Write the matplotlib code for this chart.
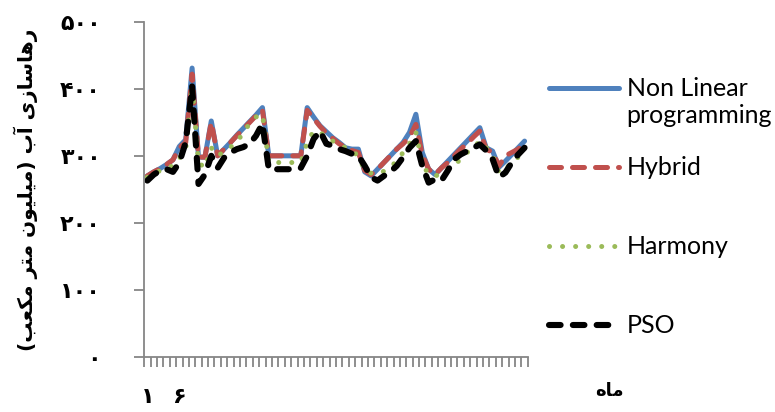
import numpy as np
import matplotlib.pyplot as plt
from matplotlib.ticker import FixedLocator

months = np.arange(1, 61)

nonlinear = [270, 276, 281, 287, 294, 314, 324, 431, 298, 298,
             352, 300, 310, 320, 331, 341, 351, 361, 372, 300,
             300, 300, 300, 300, 300, 372, 358, 345, 336, 327,
             320, 312, 310, 310, 276, 270, 280, 290, 300, 310,
             320, 335, 362, 305, 280, 272, 282, 292, 302, 312,
             322, 332, 342, 312, 307, 283, 292, 302, 312, 322]
hybrid = [270, 276, 281, 287, 294, 312, 320, 422, 298, 298,
          350, 300, 310, 320, 330, 340, 350, 360, 368, 300,
          300, 300, 300, 300, 300, 368, 356, 344, 334, 326,
          318, 312, 308, 305, 278, 272, 280, 290, 300, 310,
          318, 328, 347, 302, 280, 272, 282, 290, 300, 310,
          318, 328, 337, 310, 305, 285, 300, 305, 310, 318]
harmony = [268, 273, 278, 282, 285, 296, 310, 406, 290, 282,
           312, 300, 306, 313, 320, 335, 348, 358, 362, 290,
           290, 290, 290, 290, 290, 320, 337, 335, 328, 322,
           317, 312, 307, 300, 278, 274, 273, 277, 283, 292,
           305, 318, 335, 288, 272, 270, 273, 280, 286, 295,
           305, 312, 322, 312, 300, 275, 280, 290, 298, 308]
pso = [263, 272, 278, 280, 276, 290, 320, 404, 258, 272,
       300, 282, 297, 305, 310, 313, 318, 330, 348, 280,
       280, 280, 280, 280, 282, 300, 325, 337, 318, 315,
       310, 307, 303, 300, 285, 268, 263, 270, 276, 285,
       298, 312, 322, 285, 260, 265, 263, 278, 295, 302,
       307, 312, 317, 308, 295, 268, 275, 290, 302, 312]

series_names = ["Non Linear\nprogramming", "Hybrid", "Harmony", "PSO"]
y_ticks = [0, 100, 200, 300, 400, 500]
y_tick_labels = ["۰", "۱۰۰", "۲۰۰", "۳۰۰", "۴۰۰", "۵۰۰"]
x_tick_pos = [1, 6]
x_tick_labels = ["۱", "۶"]
y_title = "رهاسازی آب (میلیون متر مکعب)"
x_title = "ماه"

# matplotlib has no Arabic shaping/bidi, so join letters by hand
FORMS = {  # isolated, final, initial, medial
    "ا": ("\uFE8D", "\uFE8E", None, None),
    "آ": ("\uFE81", "\uFE82", None, None),
    "ب": ("\uFE8F", "\uFE90", "\uFE91", "\uFE92"),
    "ت": ("\uFE95", "\uFE96", "\uFE97", "\uFE98"),
    "ر": ("\uFEAD", "\uFEAE", None, None),
    "ز": ("\uFEAF", "\uFEB0", None, None),
    "س": ("\uFEB1", "\uFEB2", "\uFEB3", "\uFEB4"),
    "ع": ("\uFEC9", "\uFECA", "\uFECB", "\uFECC"),
    "ک": ("\uFB8E", "\uFB8F", "\uFB90", "\uFB91"),
    "ل": ("\uFEDD", "\uFEDE", "\uFEDF", "\uFEE0"),
    "م": ("\uFEE1", "\uFEE2", "\uFEE3", "\uFEE4"),
    "ن": ("\uFEE5", "\uFEE6", "\uFEE7", "\uFEE8"),
    "ه": ("\uFEE9", "\uFEEA", "\uFEEB", "\uFEEC"),
    "و": ("\uFEED", "\uFEEE", None, None),
    "ی": ("\uFEEF", "\uFEF0", "\uFEF3", "\uFEF4"),
}


def shape(text):
    out = []
    for k, ch in enumerate(text):
        if ch not in FORMS:
            out.append(ch)
            continue
        prev = text[k - 1] if k else ""
        nxt = text[k + 1] if k + 1 < len(text) else ""
        join_prev = prev in FORMS and FORMS[prev][2] is not None
        join_next = nxt in FORMS and FORMS[ch][2] is not None
        iso, fin, ini, med = FORMS[ch]
        if join_prev and join_next:
            out.append(med)
        elif join_prev:
            out.append(fin)
        elif join_next:
            out.append(ini)
        else:
            out.append(iso)
    mirror = {"(": ")", ")": "("}
    return "".join(mirror.get(c, c) for c in reversed(out))


gray = "#868686"
fig = plt.figure(figsize=(7.75, 4.12), dpi=100)
ax = fig.add_axes([0.186, 0.134, 0.495, 0.813])

ax.plot(months, nonlinear, color="#4F81BD", lw=3.6,
        solid_capstyle="round", solid_joinstyle="round")
ax.plot(months, hybrid, color="#C0504D", lw=3.6, dashes=(2.4, 2.2),
        dash_capstyle="round", dash_joinstyle="round")
ax.plot(months, harmony, color="#9BBB59", lw=3.6, dashes=(0.01, 2.6),
        dash_capstyle="round")
ax.plot(months, pso, color="black", lw=4.4, dashes=(1.9, 2.0),
        dash_capstyle="round", dash_joinstyle="round")

ax.set_xlim(0.5, 60.5)
ax.set_ylim(0, 500)
for s in ("top", "right"):
    ax.spines[s].set_visible(False)
for s in ("left", "bottom"):
    ax.spines[s].set_color(gray)
    ax.spines[s].set_linewidth(1.3)

ax.set_yticks(y_ticks, y_tick_labels)
ax.tick_params(axis="y", direction="out", length=7, width=1.3, color=gray,
               pad=24, labelsize=16)
ax.xaxis.set_major_locator(FixedLocator(x_tick_pos))
ax.set_xticklabels(x_tick_labels)
ax.xaxis.set_minor_locator(FixedLocator(np.arange(0.5, 61, 1)))
ax.tick_params(axis="x", which="major", length=0, pad=22, labelsize=16)
ax.tick_params(axis="x", which="minor", direction="out", length=7,
               width=1.3, color=gray)
for lab in ax.get_xticklabels() + ax.get_yticklabels():
    lab.set_family("DejaVu Sans")
    lab.set_fontweight("bold")

fig.text(0.033, 0.54, shape(y_title), rotation=90, ha="center", va="center",
         fontsize=14.5, fontweight="bold", family="DejaVu Sans")
fig.text(0.787, 0.05, shape(x_title), ha="center", va="center",
         fontsize=13, fontweight="bold", family="DejaVu Sans")

# pad one-line labels to two lines so every entry has the same height
labels = [series_names[0]] + [n + "\n" for n in series_names[1:]]
leg = ax.legend(ax.get_lines(), labels, loc="upper left",
                bbox_to_anchor=(0.708, 0.812), bbox_transform=fig.transFigure,
                frameon=False, prop={"family": "Lato", "size": 18},
                handlelength=2.8, handletextpad=0.32, labelspacing=1.16,
                borderpad=0, borderaxespad=0)
# put each legend line level with the first line of its label
for h in leg.legend_handles:
    h.set_ydata(np.asarray(h.get_ydata()) + 10.8)

fig.savefig("out.png", dpi=100)
